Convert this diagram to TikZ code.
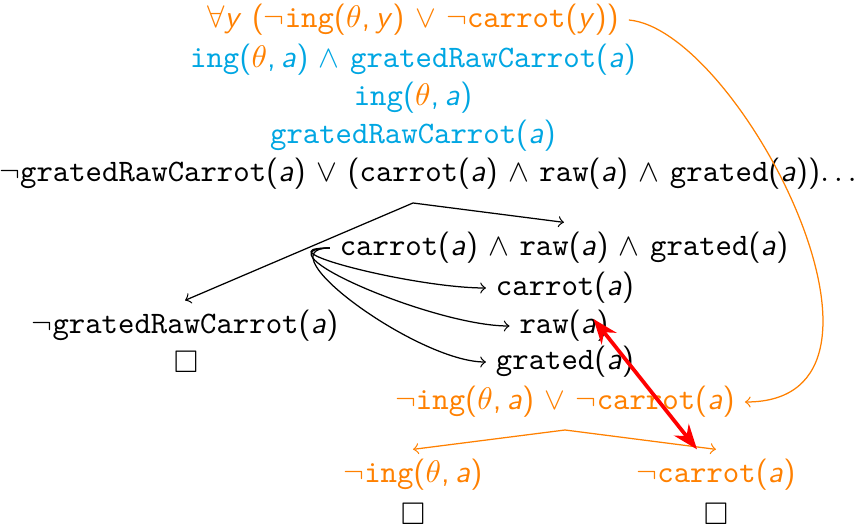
\documentclass[tikz,border=0pt]{standalone}
\usepackage{amssymb}
\usepackage{xcolor}
\usepackage{tikz}
\usetikzlibrary{arrows.meta,calc}

\definecolor{goalor}{RGB}{255,128,0}
\definecolor{hypbl}{RGB}{0,166,226}
\newcommand{\prd}[1]{\texttt{#1}}
\newcommand{\va}{\textit{a}}
\newcommand{\vy}{\textit{y}}

\begin{document}
\begin{tikzpicture}[
    x=0.32pt,y=-0.32pt,
    >=to,
    font=\sffamily,
    fml/.style={inner sep=3pt},
    goal/.style={fml,text=goalor},
    hyp/.style={fml,text=hypbl},
    goalline/.style={draw=goalor,->},
    clash/.style={draw=red,line width=1.2pt,{Stealth[length=8pt,width=6pt]}-{Stealth[length=8pt,width=6pt]}}
]
\useasboundingbox (0,0) rectangle (857,527);

\node[goal] (q)  at (413,20)  {$\forall$\vy{} ($\neg$\prd{ing}($\theta$,\,\vy) $\vee$ $\neg$\prd{carrot}(\vy))};
\node[hyp]  (h)  at (413,60)  {\prd{ing}({\color{goalor}$\theta$},\,\va) $\wedge$ \prd{gratedRawCarrot}(\va)};
\node[hyp]  (h1) at (413,98)  {\prd{ing}({\color{goalor}$\theta$},\,\va)};
\node[hyp]  (h2) at (413,136) {\prd{gratedRawCarrot}(\va)};
\node[fml]  (d)  at (428,174) {$\neg$\prd{gratedRawCarrot}(\va) $\vee$ (\prd{carrot}(\va) $\wedge$ \prd{raw}(\va) $\wedge$ \prd{grated}(\va))$\ldots$};

\coordinate (b1) at (413,203);
\node[fml] (l)  at (185,326) {$\neg$\prd{gratedRawCarrot}(\va)};
\node[fml] (lx) at (186,362) {$\square$};
\node[fml] (c)  at (564,248) {\prd{carrot}(\va) $\wedge$ \prd{raw}(\va) $\wedge$ \prd{grated}(\va)};
\node[fml] (c1) at (565,288) {\prd{carrot}(\va)};
\node[fml] (c2) at (564,326) {\prd{raw}(\va)};
\node[fml] (c3) at (565,362) {\prd{grated}(\va)};

\node[goal] (g)  at (565,402) {$\neg$\prd{ing}($\theta$,\,\va) $\vee$ $\neg$\prd{carrot}(\va)};
\coordinate (b2) at (565,430);
\node[goal] (g1)  at (413,475) {$\neg$\prd{ing}($\theta$,\,\va)};
\node[fml]  (g1x) at (413,514) {$\square$};
\node[goal] (g2)  at (716,475) {$\neg$\prd{carrot}(\va)};
\node[fml]  (g2x) at (716,514) {$\square$};

\draw[->] (b1) -- (l.north);
\draw[->] (b1) -- (c.north);
\draw[->] (c.west) to[out=180,in=180,looseness=1.15] (c1.west);
\draw[->] (c.west) to[out=180,in=180,looseness=1.0] (c2.west);
\draw[->] (c.west) to[out=180,in=180,looseness=0.9] (c3.west);

\draw[goalline] (q.east) .. controls (740,30) and (930,402) .. (g.east);
\draw[goalline] (b2) -- (g1.north);
\draw[goalline] (b2) -- (g2.north);

\draw[clash] ($(c2.east)+(-25,-7)$) -- ($(g2.north)+(-19,0)$);

\end{tikzpicture}
\end{document}
